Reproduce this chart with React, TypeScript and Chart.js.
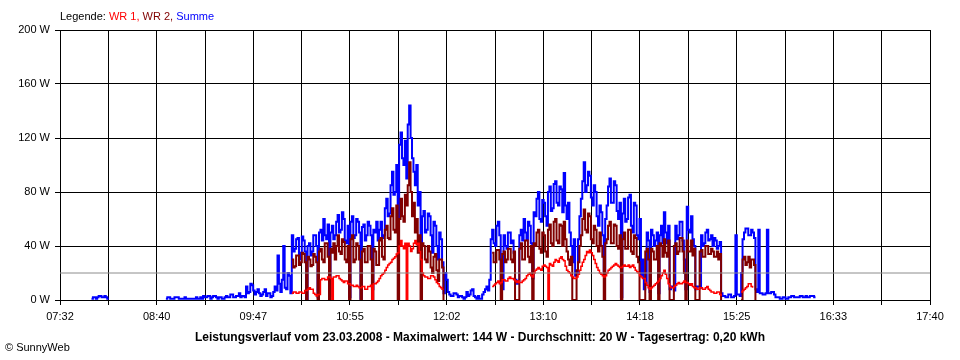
import React, { useEffect, useRef } from "react";
import { Chart, registerables } from "chart.js";

Chart.register(...registerables);

// ---- data ----
const summeStartMinute = 470; // 07:50, first sample of Summe
const wrStartMinute = 614; // 10:14, first sample of WR 1 / WR 2
const stepMinutes = 1;
const axisStartMinute = 452; // 07:32
const axisEndMinute = 1060; // 17:40
const gridDivisions = 18;
const timeLabels = ["07:32", "08:40", "09:47", "10:55", "12:02", "13:10", "14:18", "15:25", "16:33", "17:40"];
const yMax = 200;
const yStep = 40;
const averageWatt = 20;

const _ = null;

const summe: (number | null)[] = [
  _, _, _, _, 1, 2, 2, 1, 2, 3, 3, 2, 2, 3, 2, 1, 1, _, _, _,
  _, _, _, _, _, _, _, _, _, _, _, _, _, _, _, _, _, _,
  _, _, _, _, _, _, _, _, _, _, _, _, _, _, _, _, _, _,
  1, 2, 2, 1, 1, 1, 2, 2, 2, 1, 1, 1, 1, 2, 1, 1, 1, 1, 1, 1,
  1, 2, 1, 1, 2, 1, 3, 2, 2, 3, 3, 1, 2, 3, 3, 2, 1, 2, 2, 1,
  1, 2, 3, 2, 2, 4, 4, 2, 2, 3, 3, 5, 2, 3, 3, 2,
  10, 5, 6, 12, 11, 7, 4, 6, 8, 5, 3, 4, 6, 8, 3, 5, 5, 2, 3, 6,
  10, 7, 33, 12, 6, 15, 40, 9, 8, 20, 18, 5, 48, 36, 38, 45, 46, 30, 35, 47,
  44, 36, 0, 40, 42, 33, 36, 48, 48, 40, 2, 50, 52, 44, 60, 48, 45, 56, 3, 50,
  55, 45, 48, 58, 63, 50, 52, 65, 60, 44, 42, 55, 2, 58, 62, 46, 48, 60, 58, 50,
  1, 54, 56, 44, 48, 58, 55, 48, 8, 52, 50, 58, 44, 52, 58, 46, 48, 68, 75, 62,
  64, 85, 95, 78, 80, 100, 60, 115, 124, 105, 100, 118, 90, 130, 144, 120, 105, 95, 85, 100,
  70, 80, 40, 62, 66, 50, 52, 64, 62, 48, 35, 58, 55, 40, 30, 50, 45, 28, 5, 20,
  15, 6, 4, 3, 3, 5, 5, 4, 2, 3, 3, 2, 1, 2, 6, 3, 4, 7, 8, 3,
  2, 1, 3, 1, 1, 4, 6, 8, 10, 7, 15, 45, 52, 42, 40, 55, 58, 48, 12, 8,
  48, 40, 38, 50, 50, 42, 44, 35, 15, 12, 14, 48, 52, 44, 60, 50, 45, 58, 55, 42,
  16, 65, 62, 75, 80, 60, 58, 74, 72, 62, 55, 80, 84, 66, 68, 86, 88, 72, 70, 84,
  82, 65, 94, 70, 60, 72, 50, 40, 28, 45, 18, 20, 45, 62, 75, 88, 102, 80, 85, 95,
  92, 76, 70, 85, 80, 62, 55, 70, 65, 48, 20, 60, 70, 84, 90, 72, 72, 88, 85, 66,
  60, 72, 2, 64, 75, 58, 60, 76, 78, 55, 50, 72, 70, 48, 45, 60, 18, 30, 8, 12,
  50, 44, 6, 52, 48, 40, 44, 50, 5, 48, 55, 42, 65, 50, 42, 55, 8, 10, 10, 7,
  55, 45, 48, 58, 58, 44, 30, 8, 69, 52, 50, 62, 45, 40, 8, 10, 10, 9, 48, 40,
  42, 50, 52, 44, 45, 48, 40, 46, 44, 38, 40, 43, 5, 3, 3, 2, 2, 4, 4, 2,
  2, 3, 48, 4, 4, 3, 20, 45, 50, 53, 53, 48, 48, 52, 50, 46, 8, 6, 52, 5,
  5, 4, 4, 5, 52, 5, 5, 6, 6, 4, 2, 2, 2, 1, 1, 2, 2, 1, 1, 2,
  2, 3, 3, 2, 2, 2, 2, 3, 3, 2, 2, 3, 2, 2, 3, 3, 3, 2, 2,
];

const wr2: (number | null)[] = [
  30, 24, 25, 33, 33, 26, 28, 35, 34, 28, 0, 32, 30, 25, 26, 34, 32, 28, 0, 36,
  38, 30, 28, 42, 42, 32, 0, 38, 35, 42, 30, 40, 48, 36, 34, 45, 43, 30, 28, 40,
  0, 45, 48, 28, 30, 42, 40, 30, 0, 36, 38, 28, 28, 40, 40, 30, 0, 38, 36, 26,
  26, 44, 46, 32, 30, 52, 55, 46, 45, 62, 68, 52, 50, 70, 0, 60, 75, 62, 58, 78,
  70, 85, 102, 80, 62, 72, 50, 60, 35, 48, 0, 42, 40, 30, 28, 40, 36, 24, 20, 32,
  34, 22, 14, 30, 30, 24, 0, _,
  _, _, _, _, _, _, _, _, _, _, _, _, _, _, _, _,
  _, _, _, _, _, _, _, _, _, _, _, _, _, _, _, _,
  35, 28, 28, 37, 37, 30, 0, 34, 36, 28, 30, 38, 38, 30, 28, 36, 0, 0, 0, 38,
  42, 30, 30, 44, 44, 32, 28, 40, 0, 42, 40, 50, 52, 38, 35, 50, 48, 36, 32, 52,
  56, 42, 40, 58, 60, 44, 42, 56, 55, 40, 58, 45, 36, 30, 26, 32, 0, 0, 0, 22,
  28, 40, 48, 60, 67, 52, 50, 64, 62, 45, 42, 55, 52, 40, 36, 50, 40, 32, 0, 42,
  45, 55, 58, 42, 42, 56, 55, 40, 38, 48, 0, 45, 50, 38, 38, 52, 52, 36, 34, 48,
  46, 32, 28, 0, 0, 0, 0, 36, 38, 30, 0, 38, 36, 30, 30, 40, 0, 42, 40, 32,
  45, 35, 32, 44, 0, 0, 0, 40, 42, 34, 36, 46, 46, 36, 20, 0, 44, 36, 36, 44,
  33, 38, 0, 0, 0, 36, 37, 32, 32, 40, 40, 34, 34, 38, 36, 32, 32, 36, 30, 34,
  0, _,
  _, _, _, _, _, _, _, _, _, _, _, _,
  0, 30, 32, 26, 28, 32, 24, 30, 30, 26, 0,
];

const wr1: (number | null)[] = [
  5, 6, 6, 5, 5, 6, 6, 5, 5, 7, 7, 8, 9, 8, 8, 5, 4, 3, 4, 4,
  15, 16, 16, 15, 15, 17, 17, 16, 0, 17, 17, 18, 18, 16, 15, 14, 13, 14, 14, 12,
  12, 11, 11, 10, 10, 11, 10, 9, 9, 10, 10, 8, 8, 10, 10, 11, 0, 12, 12, 13,
  14, 16, 18, 19, 20, 22, 24, 26, 27, 28, 30, 31, 32, 34, 35, 40, 44, 40, 38, 42,
  0, 42, 40, 36, 38, 42, 44, 41, 42, 36, 30, 20, 18, 17, 17, 16, 16, 18, 18, 17,
  15, 13, 12, 10, 9, 8, 8, _,
  _, _, _, _, _, _, _, _, _, _, _, _, _, _, _, _,
  _, _, _, _, _, _, _, _, _, _, _, _, _, _, _, _,
  10, 11, 12, 13, 14, 12, 13, 15, 15, 14, 14, 16, 17, 16, 16, 15, 14, 13, 14, 13,
  13, 14, 15, 16, 18, 19, 20, 18, 17, 20, 22, 23, 24, 23, 22, 25, 26, 25, 24, 0,
  27, 26, 25, 28, 30, 29, 28, 31, 32, 30, 29, 25, 22, 21, 20, 18, 17, 16, 16, 17,
  19, 22, 25, 28, 30, 33, 36, 35, 37, 35, 33, 30, 27, 24, 22, 20, 19, 18, 17, 18,
  20, 22, 23, 24, 25, 26, 27, 26, 25, 24, 24, 25, 26, 25, 25, 26, 24, 25, 26, 24,
  22, 21, 20, 18, 17, 16, 16, 13, 11, 9, 8, 9, 10, 11, 12, 13, 14, 16, 18, 20,
  22, 19, 16, 12, 10, 9, 9, 10, 11, 12, 13, 12, 12, 13, 14, 13, 13, 12, 11, 12,
  10, 9, 9, 8, 8, 9, 9, 8, 8, 9, 10, 8, 7, 6, 6, 5, 5, 6, 6, 4,
  3, _,
  _, _, _, _, _, _, _, _, _, _, _, _,
  6, 7, 8, 9, 10, 12, 12, 10, 9,
];

const FONT = "'Liberation Sans', Arial, sans-serif";

function toPoints(values: (number | null)[], start: number) {
  return values.map((v, i) => ({ x: start + i * stepMinutes, y: v }));
}

export default function App() {
  const canvasRef = useRef<HTMLCanvasElement | null>(null);

  useEffect(() => {
    document.body.style.margin = "0";
    const canvas = canvasRef.current;
    if (!canvas) return;
    const gridValues: number[] = [];
    for (let k = 0; k <= gridDivisions; k++) {
      gridValues.push(axisStartMinute + (k * (axisEndMinute - axisStartMinute)) / gridDivisions);
    }
    const chart = new Chart(canvas, {
      type: "line",
      data: {
        datasets: [
          {
            label: "Durchschnitt",
            data: [
              { x: axisStartMinute, y: averageWatt },
              { x: axisEndMinute, y: averageWatt },
            ],
            borderColor: "#8c8c8c",
            borderWidth: 1,
            pointRadius: 0,
            order: -1,
          },
          {
            label: "WR 1",
            data: toPoints(wr1, wrStartMinute),
            borderColor: "#ff0000",
            borderWidth: 1.5,
            pointRadius: 0,
            stepped: true,
            spanGaps: false,
            order: 0,
          },
          {
            label: "WR 2",
            data: toPoints(wr2, wrStartMinute),
            borderColor: "#800000",
            borderWidth: 2,
            pointRadius: 0,
            stepped: true,
            spanGaps: false,
            order: 1,
          },
          {
            label: "Summe",
            data: toPoints(summe, summeStartMinute),
            borderColor: "#0000ff",
            borderWidth: 2,
            pointRadius: 0,
            stepped: true,
            spanGaps: false,
            order: 2,
          },
        ],
      },
      options: {
        animation: false,
        responsive: false,
        devicePixelRatio: 1,
        layout: { padding: { left: 0, right: 30, top: 30, bottom: 0 } },
        plugins: {
          legend: { display: false },
          tooltip: { enabled: false },
          title: { display: false },
        },
        scales: {
          x: {
            type: "linear",
            min: axisStartMinute,
            max: axisEndMinute,
            z: 1,
            afterBuildTicks: (scale: any) => {
              scale.ticks = gridValues.map((v) => ({ value: v }));
            },
            afterFit: (scale: any) => {
              scale.height = 60;
            },
            ticks: {
              autoSkip: false,
              maxRotation: 0,
              minRotation: 0,
              padding: 5,
              color: "#000",
              font: { family: FONT, size: 11 },
              callback: (_v: any, index: number) => (index % 2 === 0 ? timeLabels[index / 2] : ""),
            },
            grid: { color: "#000", lineWidth: 1, tickLength: 5, tickColor: "#000" },
            border: { color: "#000", width: 1 },
          },
          y: {
            type: "linear",
            min: 0,
            max: yMax,
            z: 1,
            afterFit: (scale: any) => {
              scale.width = 60;
            },
            ticks: {
              stepSize: yStep,
              padding: 5,
              color: "#000",
              font: { family: FONT, size: 11 },
              callback: (v: any) => `${v} W`,
            },
            grid: { color: "#000", lineWidth: 1, tickLength: 5, tickColor: "#000" },
            border: { color: "#000", width: 1 },
          },
        },
      },
    } as any);
    return () => chart.destroy();
  }, []);

  return (
    <div style={{ position: "relative", width: 960, height: 360, background: "#fff", fontFamily: FONT }}>
      <canvas ref={canvasRef} width={960} height={360} style={{ width: 960, height: 360, display: "block" }} />
      <div style={{ position: "absolute", left: 60, top: 10, fontSize: 11, lineHeight: "13px", whiteSpace: "nowrap" }}>
        <span style={{ color: "#000" }}>Legende: </span>
        <span style={{ color: "#ff0000" }}>WR 1, </span>
        <span style={{ color: "#800000" }}>WR 2, </span>
        <span style={{ color: "#0000ff" }}>Summe</span>
      </div>
      <div
        style={{
          position: "absolute",
          left: 0,
          width: 960,
          top: 330,
          textAlign: "center",
          fontSize: 12,
          fontWeight: "bold",
          lineHeight: "14px",
          whiteSpace: "nowrap",
        }}
      >
        Leistungsverlauf vom 23.03.2008 - Maximalwert: 144 W - Durchschnitt: 20 W - Tagesertrag: 0,20 kWh
      </div>
      <div style={{ position: "absolute", left: 5, top: 341, fontSize: 11, lineHeight: "13px", whiteSpace: "nowrap" }}>
        © SunnyWeb
      </div>
    </div>
  );
}
